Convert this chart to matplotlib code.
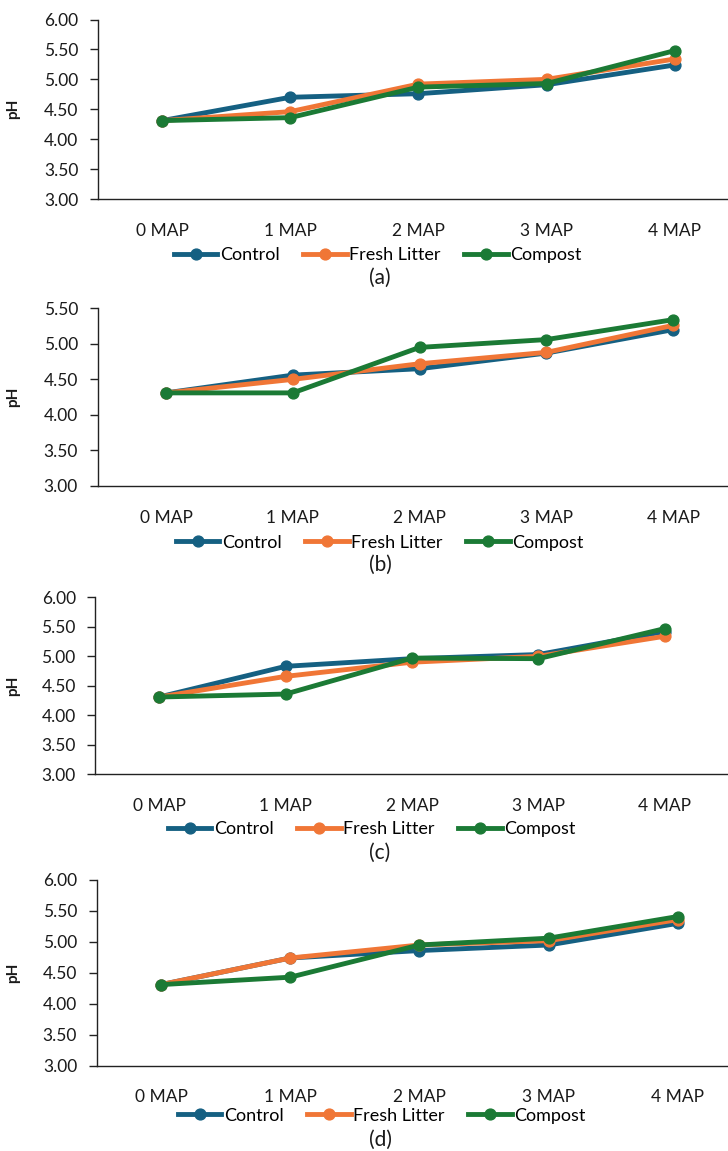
import matplotlib
matplotlib.use("Agg")
import matplotlib.pyplot as plt
from matplotlib.lines import Line2D

plt.rcParams['font.family'] = ['Lato', 'DejaVu Sans']

categories = ["0 MAP", "1 MAP", "2 MAP", "3 MAP", "4 MAP"]
series_names = ["Control", "Fresh Litter", "Compost"]
colors = ["#156082", "#F07636", "#1B7A35"]

# panel (a)
a_control = [4.31, 4.70, 4.76, 4.91, 5.24]
a_fresh = [4.31, 4.46, 4.92, 5.00, 5.34]
a_compost = [4.31, 4.36, 4.87, 4.93, 5.48]
# panel (b)
b_control = [4.31, 4.56, 4.65, 4.87, 5.20]
b_fresh = [4.31, 4.50, 4.72, 4.88, 5.26]
b_compost = [4.31, 4.31, 4.95, 5.06, 5.34]
# panel (c)
c_control = [4.31, 4.83, 4.96, 5.03, 5.42]
c_fresh = [4.31, 4.66, 4.90, 5.00, 5.34]
c_compost = [4.31, 4.36, 4.97, 4.96, 5.47]
# panel (d)
d_control = [4.31, 4.74, 4.86, 4.95, 5.30]
d_fresh = [4.31, 4.74, 4.95, 5.02, 5.36]
d_compost = [4.31, 4.43, 4.95, 5.06, 5.41]

panel_labels = ["(a)", "(b)", "(c)", "(d)"]
panel_data = [
    (a_control, a_fresh, a_compost),
    (b_control, b_fresh, b_compost),
    (c_control, c_fresh, c_compost),
    (d_control, d_fresh, d_compost),
]
y_limits = [(3.0, 6.0), (3.0, 5.5), (3.0, 6.0), (3.0, 6.0)]
y_ticks = [
    [3.0, 3.5, 4.0, 4.5, 5.0, 5.5, 6.0],
    [3.0, 3.5, 4.0, 4.5, 5.0, 5.5],
    [3.0, 3.5, 4.0, 4.5, 5.0, 5.5, 6.0],
    [3.0, 3.5, 4.0, 4.5, 5.0, 5.5, 6.0],
]

W, H = 728, 1151
fig = plt.figure(figsize=(W / 100, H / 100), dpi=100)

# layout in pixels: (axis left px, first category px, spacing px, top px, bottom px,
#                    legend y px, legend center x px, caption y px)
layout = [
    (97.7, 162.0, 128.2, 19.5, 199.0, 255.0, 378.0, 278.0),
    (97.5, 166.0, 126.8, 308.3, 486.0, 542.7, 380.0, 565.0),
    (95.2, 159.2, 126.4, 597.3, 774.3, 829.0, 372.0, 853.0),
    (96.6, 161.0, 129.2, 880.0, 1065.7, 1115.7, 382.0, 1140.0),
]

FS = 12.5
for i, (data, lay) in enumerate(zip(panel_data, layout)):
    axl, first, sp, top, bot, legy, legx, capy = lay
    xmin = -(first - axl) / sp
    xmax = 4.5
    right = first + xmax * sp
    ax = fig.add_axes([axl / W, 1 - bot / H, (right - axl) / W, (bot - top) / H])
    x = list(range(len(categories)))
    for vals, col, name in zip(data, colors, series_names):
        ax.plot(x, vals, color=col, lw=3.5, marker='o', ms=7.8,
                solid_capstyle='round', label=name, clip_on=False)
    ax.set_xlim(xmin, xmax)
    ax.set_ylim(*y_limits[i])
    ax.set_yticks(y_ticks[i])
    ax.set_yticklabels([f"{t:.2f}" for t in y_ticks[i]], fontsize=FS, color='#1a1a1a')
    ax.set_xticks(x)
    ax.set_xticklabels(categories, fontsize=FS, color='#1a1a1a')
    ax.tick_params(axis='x', length=0, pad=17)
    ax.tick_params(axis='y', length=6, width=1.0, direction='out', pad=8, color='#222222')
    for s in ['top', 'right']:
        ax.spines[s].set_visible(False)
    for s in ['left', 'bottom']:
        ax.spines[s].set_color('#222222')
        ax.spines[s].set_linewidth(1.0)
    ax.set_ylabel("pH", fontsize=11, fontweight='bold', color='#1a1a1a')
    ax.yaxis.set_label_coords((20 - axl) / (right - axl), 0.5)

    handles = [Line2D([0], [0], color=c, lw=3.5, marker='o', ms=7.8) for c in colors]
    fig.legend(handles, series_names, loc='center', ncol=3,
               bbox_to_anchor=(legx / W, 1 - legy / H), frameon=False,
               fontsize=13, handlelength=2.4, handletextpad=0.15,
               columnspacing=1.3, borderpad=0, borderaxespad=0)
    fig.text(380 / W, 1 - capy / H, panel_labels[i], ha='center', va='center',
             fontsize=15, color='#1a1a1a')

fig.savefig("out.png", dpi=100, facecolor='white')
